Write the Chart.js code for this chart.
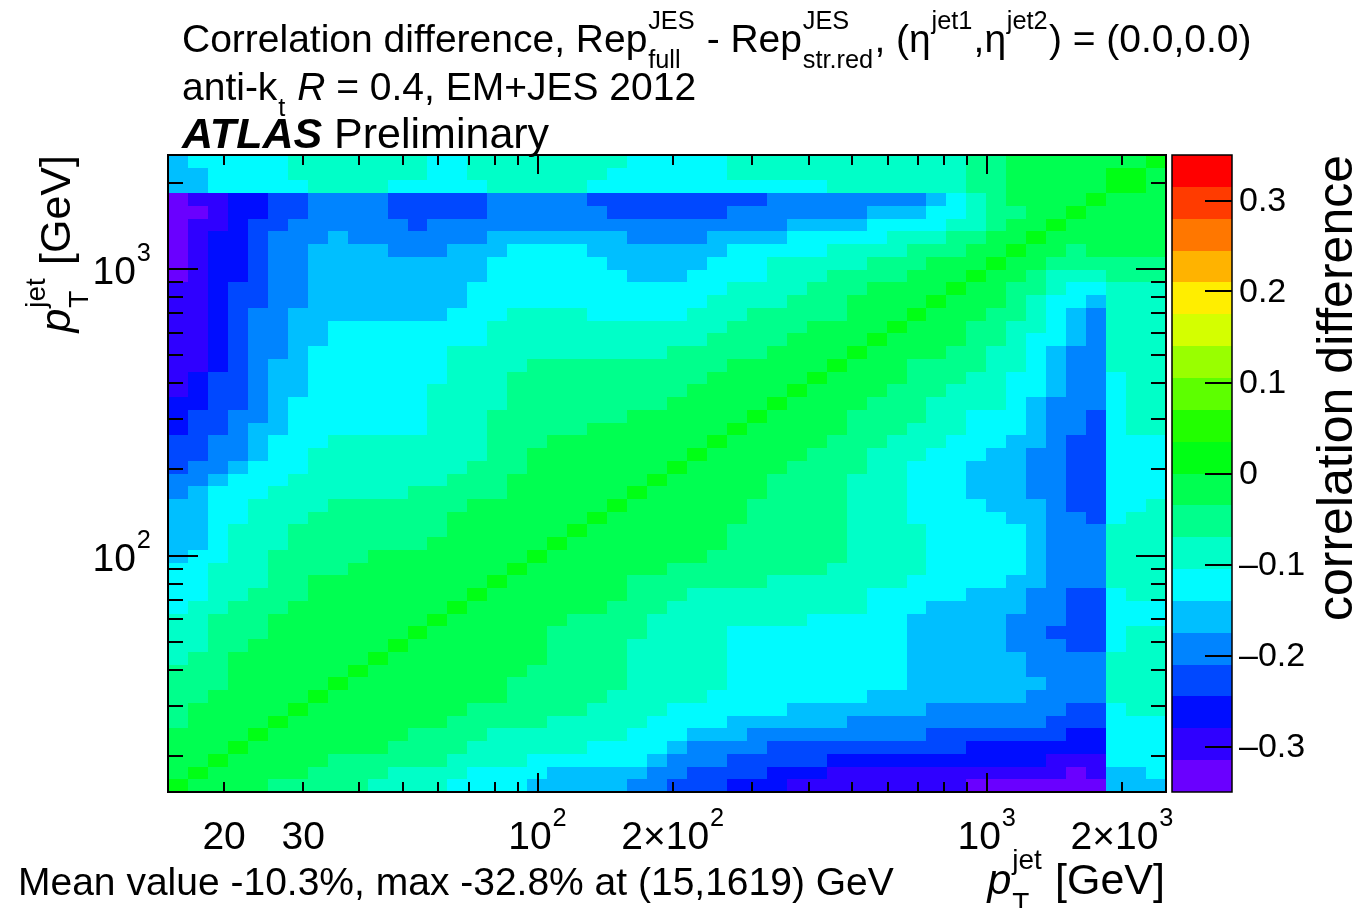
<!DOCTYPE html>
<html>
<head>
<meta charset="utf-8">
<title>Correlation difference</title>
<script src="https://cdn.jsdelivr.net/npm/chart.js@4.4.1/dist/chart.umd.min.js"></script>
<style>
  html, body { margin: 0; padding: 0; background: #fff; }
  canvas { display: block; }
</style>
</head>
<body>
<canvas id="corrChart" width="1359" height="908"></canvas>
<script>
// pT binning, identical on both axes: 50 log-spaced bins from 15 to 2500 GeV
const ptMin = 15;
const ptMax = 2500;
const nBins = 50;
const binEdges = Array.from({ length: nBins + 1 }, (_, i) => ptMin * Math.pow(ptMax / ptMin, i / nBins));

// colour axis: 20 contour bands between -0.35 and 0.35
const zMin = -0.35;
const zMax = 0.35;
const palette = [
  '#6a00ff', '#2f00ff', '#000dff', '#0048ff', '#0084ff', '#00bfff', '#00fbff', '#00ffc8', '#00ff8c', '#00ff51',
  '#00ff15', '#22ff00', '#5dff00', '#99ff00', '#d4ff00', '#ffee00', '#ffb300', '#ff7700', '#ff3b00', '#ff0000'
];

// correlation difference for each band code used in the matrix
const bandValue = {
  '0': -0.328, '1': -0.300, '2': -0.265, '3': -0.230, '4': -0.195, '5': -0.160,
  '6': -0.125, '7': -0.090, '8': -0.055, '9': -0.020, 'a': 0.0
};

// matrix is symmetric: only cells with x bin <= y bin are stored.
// one row per y bin, highest pT first; "7x3" = code 7 repeated 3 times
const corrDiffRows = [
  '5 6x5 7x7 6x2 7x8 6x5 7x12 8x2 9x7 a',
  '5x2 6x4 7x7 6x2 7x7 6x6 7x12 8x2 9x5 ax2',
  '5x2 6x5 7x4 6x5 7x5 6x12 7x7 8x2 9x5 a',
  '0 1x2 2x2 3x2 4x4 3x5 4x5 3x9 4x8 5 6 7 8 9x4 a',
  '0x2 1 2x2 3x2 4x4 3x5 4x6 3x6 4x7 5x3 6x2 7 8x2 9x2 a',
  '0 1x2 2 3x2 4x6 3 4x18 5x4 6x4 7x2 8 9x2 a',
  '0 1 2x2 3 4x3 5 4x7 5x7 4x4 5x4 6x5 7x3 8x2 9x2 a',
  '0 1 2x2 3 4x2 5x4 4x3 5x3 6x4 5x7 6x5 7x4 8x3 9x2 a',
  '0 1 2x2 3 4x2 5x9 6x6 5x5 6x3 7x5 8x3 9x3 a',
  '0 1 2x2 3 4x2 5x9 6x7 5x3 6x4 7x3 8x4 9x3 a',
  '1x2 2 3x2 4x2 5x8 6x13 7x4 8x3 9x4 a',
  '1x2 2 3x2 4x2 5x8 6x12 7x4 8x3 9x4 a',
  '1x2 2 3 4x2 5x8 6x3 7x4 6x5 7x3 8x5 9x3 a',
  '1x2 2 3 4x2 5x2 6x8 7x12 8x4 9x4 a',
  '1x2 2 3 4x2 5x2 6x8 7x11 8x4 9x4 a',
  '1x2 2 3 4x2 5 6x7 7x11 8x5 9x4 a',
  '1x2 2 3 4 5x2 6x7 7x4 8x10 9x5 a',
  '1 2 3x2 4 5x2 6x7 7x3 8x10 9x5 a',
  '1 2 3x2 4 5x2 6x6 7x4 8x9 9x5 a',
  '2x2 3x2 4 5 6x7 7x4 8x8 9x5 a',
  '2 3x2 4x2 5 6x7 7x3 8x7 9x6 a',
  '2 3x2 4 5x2 6x7 7x3 8x5 9x7 a',
  '3x2 4x2 5 6x3 7x8 8x3 9x8 a',
  '3x2 4x2 5 6x2 7x9 8x2 9x8 a',
  '3 4x2 5 6x3 7x8 8x3 9x7 a',
  '4x2 5 6x3 7x8 8x3 9x7 a',
  '4 5 6x3 7x7 8x5 9x6 a',
  '5x2 6x2 7x4 8x7 9x7 a',
  '5x2 6x2 7x3 8x7 9x7 a',
  '5x2 6 7x3 8x8 9x6 a',
  '5x2 6 7x3 8x7 9x6 a',
  '5 6x2 7x2 8x5 9x8 a',
  '6x2 7x3 8x4 9x8 a',
  '6x2 7x3 8x2 9x9 a',
  '6x2 7x2 8x3 9x8 a',
  '6 7x2 8x3 9x8 a',
  '7x2 8x3 9x8 a',
  '7x2 8x3 9x7 a',
  '7x2 8x2 9x7 a',
  '7 8x2 9x7 a',
  '8x3 9x6 a',
  '8x3 9x5 a',
  '8x2 9x5 a',
  '8 9x5 a',
  '8 9x4 a',
  '9x4 a',
  '9x3 a',
  '9x2 a',
  '9 a',
  'a'
];

// axis ticks and labels
const majorTicks = [100, 1000];
const minorTicks = [20, 30, 40, 50, 60, 70, 80, 90, 200, 300, 400, 500, 600, 700, 800, 900, 2000];
const xTickValues = [20, 30, 100, 200, 1000, 2000];
const xTickLabels = ['20', '30', '10^2', '2×10^2', '10^3', '2×10^3'];
const yTickValues = [100, 1000];
const yTickLabels = ['10^2', '10^3'];
const zTickValues = [-0.3, -0.2, -0.1, 0, 0.1, 0.2, 0.3];
const zTickLabels = ['–0.3', '–0.2', '–0.1', '0', '0.1', '0.2', '0.3'];

const FONT = '"Liberation Sans", Arial, Helvetica, sans-serif';

// expand the run-length rows into arrays of values
const corrDiff = corrDiffRows.map(row => {
  const out = [];
  row.split(' ').forEach(tok => {
    const [code, n] = tok.split('x');
    for (let k = 0; k < (n ? +n : 1); k++) out.push(bandValue[code]);
  });
  return out;
});

function cellValue(i, j) {
  const lo = Math.min(i, j), hi = Math.max(i, j);
  return corrDiff[nBins - 1 - hi][lo];
}

function bandColour(v) {
  const step = (zMax - zMin) / palette.length;
  let k = Math.floor((v - zMin) / step + 1e-9);
  k = Math.max(0, Math.min(palette.length - 1, k));
  return palette[k];
}

// text with sub/superscripts, parts: {t, style} or {sup, sub, style}
function drawRich(ctx, parts, x, y, size, align) {
  const small = size * 0.65;
  const widths = parts.map(p => {
    if (p.t !== undefined) {
      ctx.font = `${p.style || ''} ${size}px ${FONT}`;
      return ctx.measureText(p.t).width;
    }
    ctx.font = `${p.style || ''} ${small}px ${FONT}`;
    const ws = p.sup ? ctx.measureText(p.sup).width : 0;
    const wb = p.sub ? ctx.measureText(p.sub).width : 0;
    return Math.max(ws, wb) + size * 0.05;
  });
  const total = widths.reduce((s, w) => s + w, 0);
  let cx = align === 'right' ? x - total : align === 'center' ? x - total / 2 : x;
  ctx.textAlign = 'left';
  ctx.textBaseline = 'alphabetic';
  parts.forEach((p, k) => {
    if (p.t !== undefined) {
      ctx.font = `${p.style || ''} ${size}px ${FONT}`;
      ctx.fillText(p.t, cx, y);
    } else {
      ctx.font = `${p.style || ''} ${small}px ${FONT}`;
      if (p.sup) ctx.fillText(p.sup, cx + size * 0.02, y - size * 0.58);
      if (p.sub) ctx.fillText(p.sub, cx + size * 0.02, y + size * 0.42);
    }
    cx += widths[k];
  });
  return total;
}

function powerLabel(label) {
  const [base, exp] = label.split('^');
  return exp ? [{ t: base }, { sup: exp }] : [{ t: base }];
}

const ptTitle = [{ t: 'p', style: 'italic' }, { sup: 'jet', sub: 'T' }, { t: ' [GeV]' }];

const heatmap = {
  id: 'heatmap',
  beforeDatasetsDraw(chart) {
    const { ctx, chartArea: a, scales: { x, y } } = chart;
    ctx.save();
    ctx.beginPath();
    ctx.rect(a.left, a.top, a.right - a.left, a.bottom - a.top);
    ctx.clip();
    for (let j = 0; j < nBins; j++) {
      const top = Math.round(y.getPixelForValue(binEdges[j + 1]));
      const bottom = Math.round(y.getPixelForValue(binEdges[j]));
      for (let i = 0; i < nBins; i++) {
        const left = Math.round(x.getPixelForValue(binEdges[i]));
        const right = Math.round(x.getPixelForValue(binEdges[i + 1]));
        ctx.fillStyle = bandColour(cellValue(i, j));
        ctx.fillRect(left, top, right - left, bottom - top);
      }
    }
    ctx.restore();
  },
  afterDraw(chart) {
    const { ctx, chartArea: a, scales: { x, y, z } } = chart;
    ctx.save();
    ctx.fillStyle = '#000';
    ctx.strokeStyle = '#000';

    // inward tick marks on all four sides
    ctx.lineWidth = 2;
    ctx.beginPath();
    const mark = (v, major) => {
      const px = Math.round(x.getPixelForValue(v));
      const py = Math.round(y.getPixelForValue(v));
      const lx = major ? 19 : 10;
      const ly = major ? 30 : 15;
      ctx.moveTo(px, a.bottom); ctx.lineTo(px, a.bottom - lx);
      ctx.moveTo(px, a.top); ctx.lineTo(px, a.top + lx);
      ctx.moveTo(a.left, py); ctx.lineTo(a.left + ly, py);
      ctx.moveTo(a.right, py); ctx.lineTo(a.right - ly, py);
    };
    majorTicks.forEach(v => mark(v, true));
    minorTicks.forEach(v => mark(v, false));
    ctx.stroke();

    // frame
    ctx.lineWidth = 2;
    ctx.strokeRect(a.left, a.top, a.right - a.left, a.bottom - a.top);

    // colour bar
    const barL = 1172, barR = 1232;
    const step = (zMax - zMin) / palette.length;
    palette.forEach((col, k) => {
      const t = Math.round(z.getPixelForValue(zMin + (k + 1) * step));
      const b = Math.round(z.getPixelForValue(zMin + k * step));
      ctx.fillStyle = col;
      ctx.fillRect(barL, t, barR - barL, b - t);
    });
    ctx.fillStyle = '#000';
    ctx.lineWidth = 1.5;
    ctx.strokeRect(barL, a.top, barR - barL, a.bottom - a.top);
    ctx.lineWidth = 2;
    ctx.beginPath();
    zTickValues.forEach(v => {
      const py = Math.round(z.getPixelForValue(v));
      ctx.moveTo(barR, py); ctx.lineTo(barR - 27, py);
    });
    ctx.stroke();
    ctx.font = `34px ${FONT}`;
    ctx.textAlign = 'left';
    ctx.textBaseline = 'middle';
    zTickValues.forEach((v, k) => ctx.fillText(zTickLabels[k], 1239, z.getPixelForValue(v) + 1));

    // tick labels
    xTickValues.forEach((v, k) => drawRich(ctx, powerLabel(xTickLabels[k]), x.getPixelForValue(v), 849, 39, 'center'));
    yTickValues.forEach((v, k) => drawRich(ctx, powerLabel(yTickLabels[k]), 152, y.getPixelForValue(v) + 15, 39, 'right'));

    // axis titles
    drawRich(ctx, ptTitle, 1165, 894, 43, 'right');
    ctx.save();
    ctx.translate(70, a.top);
    ctx.rotate(-Math.PI / 2);
    drawRich(ctx, ptTitle, 0, 0, 43, 'right');
    ctx.restore();
    ctx.save();
    ctx.translate(1352, a.top);
    ctx.rotate(-Math.PI / 2);
    drawRich(ctx, [{ t: 'correlation difference' }], 0, 0, 50, 'right');
    ctx.restore();

    // header lines
    drawRich(ctx, [
      { t: 'Correlation difference, Rep' }, { sup: 'JES', sub: 'full' },
      { t: ' - Rep' }, { sup: 'JES', sub: 'str.red' },
      { t: ', (η' }, { sup: 'jet1' }, { t: ',η' }, { sup: 'jet2' },
      { t: ') = (0.0,0.0)' }
    ], 182, 52, 39, 'left');
    drawRich(ctx, [
      { t: 'anti-k' }, { sub: 't' }, { t: ' ' }, { t: 'R', style: 'italic' },
      { t: ' = 0.4, EM+JES 2012' }
    ], 182, 100, 39, 'left');
    drawRich(ctx, [{ t: 'ATLAS', style: 'italic bold' }, { t: ' Preliminary' }], 182, 148, 43, 'left');

    // summary line
    drawRich(ctx, [{ t: 'Mean value -10.3%, max -32.8% at (15,1619) GeV' }], 18, 895, 39, 'left');
    ctx.restore();
  }
};

new Chart(document.getElementById('corrChart'), {
  type: 'scatter',
  data: { datasets: [{ data: [] }] },
  options: {
    responsive: false,
    animation: false,
    devicePixelRatio: 1,
    layout: { padding: { left: 168, top: 155, right: 193, bottom: 116 } },
    plugins: { legend: { display: false }, tooltip: { enabled: false } },
    scales: {
      x: { type: 'logarithmic', min: ptMin, max: ptMax, display: false },
      y: { type: 'logarithmic', min: ptMin, max: ptMax, display: false },
      z: { type: 'linear', axis: 'y', min: zMin, max: zMax, display: false }
    }
  },
  plugins: [heatmap]
});
</script>
</body>
</html>
